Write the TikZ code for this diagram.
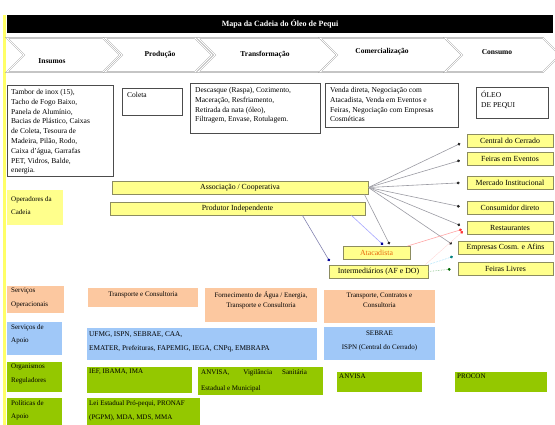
\documentclass[tikz,border=0pt]{standalone}
\usepackage{fontspec}
\setmainfont{Liberation Serif}
\usetikzlibrary{arrows.meta}
\definecolor{opyellow}{HTML}{FFFF8C}
\definecolor{stripyellow}{HTML}{FFFF66}
\definecolor{opedge}{HTML}{8C8C60}
\definecolor{servpeach}{HTML}{FCC8A0}
\definecolor{apoioblue}{HTML}{A0C8F8}
\definecolor{regreen}{HTML}{94C800}
\definecolor{linkgray}{HTML}{9A9AA2}
\definecolor{atacorange}{HTML}{E86A10}
\begin{document}
\begin{tikzpicture}[x=1pt, y=-1pt,
		font=\fontsize{7.5}{9.8}\selectfont,
		stage/.style={draw=gray!70, double=white, double distance=0.8pt, fill=white},
		infobox/.style={draw=black!70},
		infotext/.style={anchor=north west, align=left, inner sep=0pt},
		opbox/.style={draw=opedge, line width=0.9pt, fill=opyellow, minimum height=13, inner sep=1pt, font=\fontsize{7.8}{9}\selectfont},
		tagtext/.style={anchor=north west, align=left, inner sep=0pt, font=\fontsize{7}{13.5}\selectfont},
		cell/.style={inner sep=0pt, font=\fontsize{7}{10.5}\selectfont},
		link/.style={linkgray, semithick, -{Circle[length=2.8pt, color=black!85]}, shorten >=7pt},
	]
	\useasboundingbox (0,0) rectangle (555,425);
	
	%title bar
	\fill[stripyellow] (3,15) rectangle (6,425);
	\fill[black] (7,15) rectangle (553,33);
	\node[white, font=\fontsize{8}{9}\selectfont\bfseries] (title) at (280,24) {Mapa da Cadeia do Óleo de Pequi};
	
	%stages
	\foreach \l/\r/\lx/\ly/\n/\t in {7/120/52/61/ins/Insumos, 105/212/160/55/prod/Produção, 198/337/265/55/transf/Transformação, 320/462/382/52/com/Comercialização, 445/560/497/52/cons/Consumo}{
		\draw[stage] (\l,38) -- (\r-17,38) -- (\r,55) -- (\r-17,72) -- (\l,72) -- (\l+17,55) -- cycle;
		\node[font=\fontsize{7.5}{9}\selectfont\bfseries] (st-\n) at (\lx,\ly) {\t};
	}
	
	\draw[infobox] (7,85) rectangle (113,176);
	\node[infotext] (ins-list) at (11,89) {Tambor de inox (15),\\Tacho de Fogo Baixo,\\Panela de Alumínio,\\Bacias de Plástico, Caixas\\de Coleta, Tesoura de\\Madeira, Pilão, Rodo,\\Caixa d'água, Garrafas\\PET, Vidros, Balde,\\energia.};
	\draw[infobox] (122,88) rectangle (182,115);
	\node[infotext] (prod-list) at (127,92) {Coleta};
	\draw[infobox] (190,83) rectangle (320,133);
	\node[infotext] (transf-list) at (195,87) {Descasque (Raspa), Cozimento,\\Maceração, Resfriamento,\\Retirada da nata (óleo),\\Filtragem, Envase, Rotulagem.};
	\draw[infobox] (325,83) rectangle (458,127);
	\node[infotext] (com-list) at (330,87) {Venda direta, Negociação com\\Atacadista, Venda em Eventos e\\Feiras, Negociação com Empresas\\Cosméticas};
	\draw[infobox] (476,87) rectangle (548,118);
	\node[infotext] (cons-list) at (481,91) {ÓLEO\\DE PEQUI};
	
	%operators
	\fill[opyellow] (7,190) rectangle (63,225);
	\node[tagtext] (op-tag) at (11,196) {Operadores da\\Cadeia};
	\node[opbox, minimum width=256] (assoc) at (240,187.5) {Associação / Cooperativa};
	\node[opbox, minimum width=255] (prodind) at (237.5,208.5) {Produtor Independente};
	\node[opbox, minimum width=67, text=atacorange] (atacadista) at (376.5,253) {Atacadista};
	\node[opbox, minimum width=99] (interm) at (378.5,271.5) {Intermediários (AF e DO)};
	
	\node[opbox, minimum width=86] (central) at (510,140.5) {Central do Cerrado};
	\node[opbox, minimum width=86] (feiras) at (510,158.5) {Feiras em Eventos};
	\node[opbox, minimum width=86] (mercado) at (510,182.5) {Mercado Institucional};
	\node[opbox, minimum width=86] (consumidor) at (510,208) {Consumidor direto};
	\node[opbox, minimum width=86] (restaurantes) at (510,228) {Restaurantes};
	\node[opbox, minimum width=95] (empresas) at (505.5,248) {Empresas Cosm. e Afins};
	\node[opbox, minimum width=95] (livres) at (505.5,268.5) {Feiras Livres};
	
	\foreach \t in {central, feiras, mercado, consumidor, restaurantes, empresas}{
		\draw[link] (assoc.east) -- (\t.west);
	}
	\draw[link, shorten >=2pt] ([xshift=-4]assoc.south east) -- ([xshift=-20]atacadista.north east);
	\draw[link, blue!35, shorten >=2pt, -{Circle[length=2.8pt, color=blue!60!black]}] ([xshift=-14]prodind.south east) -- ([xshift=8]atacadista.north);
	\draw[link, blue!15!linkgray, shorten >=4pt, -{Circle[length=2.8pt, color=blue!60!black]}] ([xshift=-63]prodind.south east) -- ([xshift=3]interm.north west);
	\draw[link, red!35, shorten >=5pt, -{Circle[length=2.8pt, color=red!80]}] ([xshift=-3]atacadista.north east) -- (restaurantes.west);
	\draw[link, red!15, thin, shorten >=5pt, -{Circle[length=2.8pt, color=red!80]}] ([xshift=-3]interm.north east) -- (restaurantes.west);
	\draw[link, cyan!40, densely dotted, shorten >=5pt, -{Circle[length=2.8pt, color=teal]}] (interm.north east) -- (empresas.south west);
	\draw[link, green!50!black!50, densely dotted, -{Circle[length=2.8pt, color=green!40!black]}] (interm.east) -- (livres.west);
	
	%services
	\fill[servpeach] (7,286) rectangle (64,313);
	\node[tagtext] (sop-tag) at (11,288) {Serviços\\Operacionais};
	\fill[servpeach] (88,288) rectangle (198,307);
	\node[cell] (sop-a) at (143,295) {Transporte e Consultoria};
	\fill[servpeach] (205,288) rectangle (317,322);
	\node[cell, align=center] (sop-b) at (261,300) {Fornecimento de Água / Energia,\\Transporte e Consultoria};
	\fill[servpeach] (324,290) rectangle (435,323);
	\node[cell, align=center] (sop-c) at (379.5,300) {Transporte, Contratos e\\Consultoria};
	
	\fill[apoioblue] (7,322) rectangle (62,355);
	\node[tagtext] (apoio-tag) at (11,324) {Serviços de\\Apoio};
	\fill[apoioblue] (87,328) rectangle (317,360);
	\node[cell, anchor=north west, align=left, font=\fontsize{7.3}{14}\selectfont] (apoio-a) at (89,331) {UFMG, ISPN, SEBRAE, CAA,\\EMATER, Prefeituras, FAPEMIG, IEGA, CNPq, EMBRAPA};
	\fill[apoioblue] (324,327) rectangle (435,360);
	\node[cell, align=center, font=\fontsize{7}{14}\selectfont] (apoio-b) at (379.5,341) {SEBRAE\\ISPN (Central do Cerrado)};
	
	%regulators and policies
	\fill[regreen] (7,362) rectangle (62,392);
	\node[tagtext] (reg-tag) at (11,364) {Organismos\\Reguladores};
	\fill[regreen] (87,367) rectangle (192,393);
	\node[cell, anchor=north west] (reg-a) at (89,369) {IEF, IBAMA, IMA};
	\fill[regreen] (198,367) rectangle (323,395);
	\node[cell, anchor=north west, align=left, font=\fontsize{7}{16}\selectfont] (reg-b) at (201,369) {ANVISA,\hspace{14pt}Vigilância\hspace{10pt}Sanitária\\Estadual e Municipal};
	\fill[regreen] (337,372) rectangle (422,392);
	\node[cell, anchor=north west] (reg-c) at (339,374) {ANVISA};
	\fill[regreen] (455,372) rectangle (547,392);
	\node[cell, anchor=north west] (reg-d) at (457,374) {PROCON};
	
	\fill[regreen] (7,398) rectangle (62,425);
	\node[tagtext] (pol-tag) at (11,400) {Políticas de\\Apoio};
	\fill[regreen] (87,398) rectangle (200,425);
	\node[cell, anchor=north west, align=left, font=\fontsize{7}{14}\selectfont] (pol-a) at (89,400) {Lei Estadual Pró-pequi, PRONAF\\(PGPM), MDA, MDS, MMA};
\end{tikzpicture}
\end{document}
